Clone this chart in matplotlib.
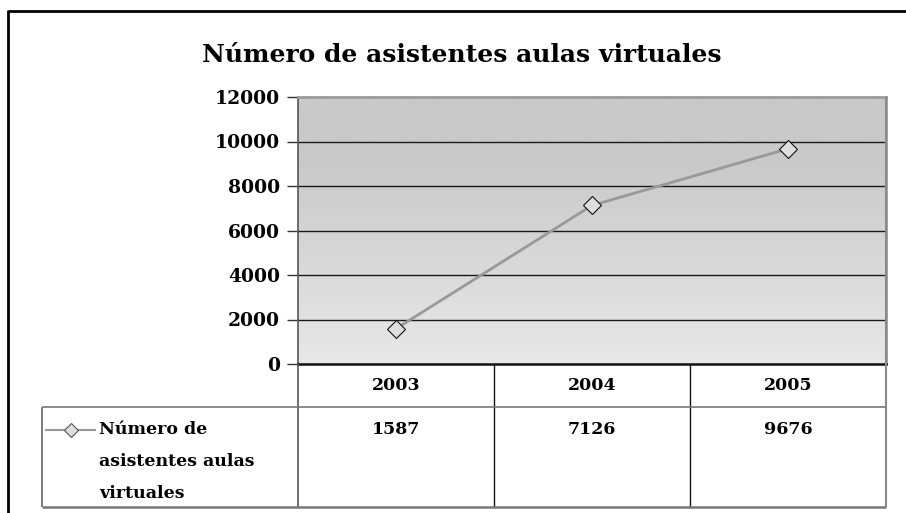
import numpy as np
import matplotlib
matplotlib.use("Agg")
import matplotlib.pyplot as plt
from matplotlib.lines import Line2D

W, H = 906, 513

years = ["2003", "2004", "2005"]
asistentes = [1587, 7126, 9676]
serie = "Número de\nasistentes aulas\nvirtuales"
titulo = "Número de asistentes aulas virtuales"
y_ticks = [0, 2000, 4000, 6000, 8000, 10000, 12000]

FONT = "DejaVu Serif"


def fx(x):
    return x / W


def fy(y):
    return 1 - y / H


def hline(fig, x0, x1, y, color, lw):
    fig.add_artist(Line2D([fx(x0), fx(x1)], [fy(y), fy(y)], color=color, lw=lw,
                          transform=fig.transFigure, solid_capstyle="butt"))


def vline(fig, x, y0, y1, color, lw):
    fig.add_artist(Line2D([fx(x), fx(x)], [fy(y0), fy(y1)], color=color, lw=lw,
                          transform=fig.transFigure, solid_capstyle="butt"))


fig = plt.figure(figsize=(W / 100, H / 100), dpi=100)
fig.patch.set_facecolor("white")

# plot area in pixel terms
left, right, top, bottom = 298, 886, 97, 364
ax = fig.add_axes([fx(left), fy(bottom), fx(right - left), (bottom - top) / H])

# gradient background, darker at the top
grad = np.concatenate([np.full(60, 0.0), np.linspace(0, 1, 200)])[:, None]
ax.imshow(grad, extent=[0, 1, 0, 1], transform=ax.transAxes, aspect="auto",
          cmap=matplotlib.colors.LinearSegmentedColormap.from_list("g", ["#c9c9c9", "#e8e8e8"]),
          zorder=0, interpolation="bilinear")

x = np.arange(len(years))
ax.set_xlim(-0.5, len(years) - 0.5)
ax.set_ylim(0, 12000)
ax.set_yticks(y_ticks)
ax.set_yticklabels([str(t) for t in y_ticks], fontfamily=FONT, fontweight="bold", fontsize=13.5)
ax.set_xticks([])
for t in y_ticks[1:-1]:
    ax.axhline(t, color="#1a1a1a", lw=1.0, zorder=1)
ax.tick_params(axis="y", direction="out", length=8, width=1, color="#333333", pad=5)

ax.plot(x, asistentes, color="#999999", lw=2, zorder=3,
        marker="D", markersize=9.5, markerfacecolor="#dedede",
        markeredgecolor="#111111", markeredgewidth=0.8)

for side in ("top", "right"):
    ax.spines[side].set_color("#9a9a9a")
    ax.spines[side].set_linewidth(2)
ax.spines["left"].set_color("#555555")
ax.spines["left"].set_linewidth(1.2)
ax.spines["bottom"].set_color("#111111")
ax.spines["bottom"].set_linewidth(1.8)

# title
fig.text(fx(462), fy(55), titulo, ha="center", va="center",
         fontfamily=FONT, fontweight="heavy", fontsize=18)

# data table under the plot
col_edges = np.linspace(left, right, len(years) + 1)
row_mid, row_bot, tab_bot, leg_left = 364, 407, 507, 42
for cx in col_edges[1:-1]:
    vline(fig, cx, row_mid, tab_bot, "#111111", 1.0)
vline(fig, left, row_mid, tab_bot, "#555555", 1.2)
vline(fig, right, top, tab_bot, "#8a8a8a", 1.5)
vline(fig, leg_left, row_bot, tab_bot, "#666666", 1.2)
hline(fig, leg_left, right, row_bot, "#777777", 1.2)
hline(fig, leg_left, right, tab_bot, "#777777", 1.8)

for i, (yr, val) in enumerate(zip(years, asistentes)):
    cx = (col_edges[i] + col_edges[i + 1]) / 2
    fig.text(fx(cx), fy(386), yr, ha="center", va="center",
             fontfamily=FONT, fontweight="bold", fontsize=12.5)
    fig.text(fx(cx), fy(430), str(val), ha="center", va="center",
             fontfamily=FONT, fontweight="bold", fontsize=12.5)

# legend key in the table
fig.add_artist(Line2D([fx(46), fx(95)], [fy(430), fy(430)], color="#999999", lw=1.5,
                      transform=fig.transFigure))
fig.add_artist(Line2D([fx(71)], [fy(430)], transform=fig.transFigure, marker="D",
                      markersize=7, markerfacecolor="#dedede", markeredgecolor="#555555",
                      markeredgewidth=0.8, lw=0))
fig.text(fx(99), fy(421), serie, ha="left", va="top", linespacing=2.15,
         fontfamily=FONT, fontweight="bold", fontsize=12.5)

# chart frame
hline(fig, 8, W + 5, 11, "black", 2)
vline(fig, 8, 10, H + 5, "black", 2)

fig.savefig("out.png", dpi=100)
